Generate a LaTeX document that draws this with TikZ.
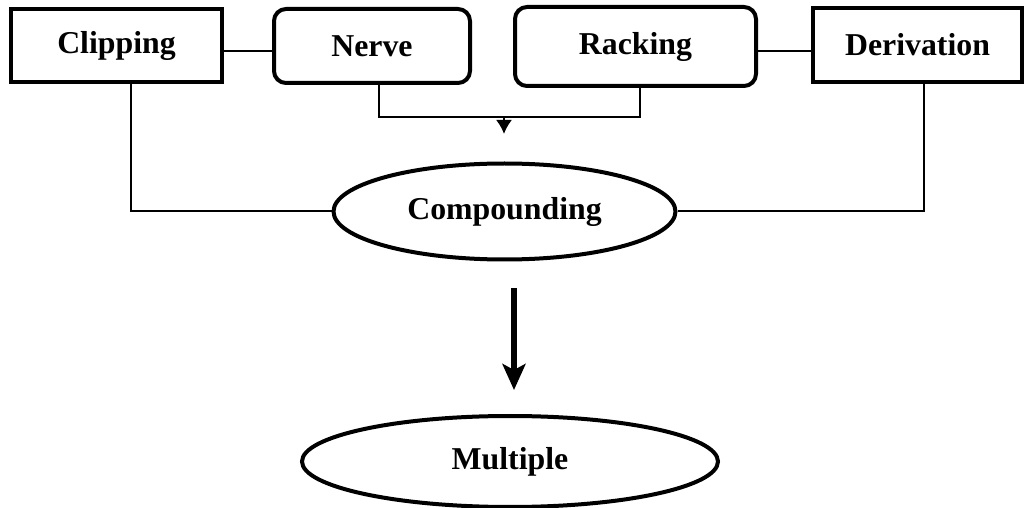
\documentclass[tikz,border=0pt]{standalone}
\usepackage{fontspec}
\setmainfont{Liberation Serif}
\usetikzlibrary{shapes.geometric,arrows.meta}
\begin{document}
\begin{tikzpicture}[x=0.5pt,y=-0.5pt,
  every node/.style={font=\fontsize{15.9}{19}\selectfont\bfseries, inner sep=0pt},
  sqbox/.style={draw, line width=2pt, rectangle},
  rdbox/.style={draw, line width=2pt, rectangle, rounded corners=6pt},
  ellbox/.style={draw, line width=2pt, ellipse},
  conn/.style={line width=1pt}]
\useasboundingbox (0,0) rectangle (1025,508);
\node[sqbox, minimum width=105.5pt, minimum height=36.5pt] (clip) at (116.5,46) {Clipping};
\node[rdbox, minimum width=98pt, minimum height=37pt] (nerve) at (372,46) {Nerve};
\node[rdbox, minimum width=120.5pt, minimum height=39.5pt] (rack) at (635.5,46.5) {Racking};
\node[sqbox, minimum width=104.5pt, minimum height=37pt] (deriv) at (917.5,45) {Derivation};
\node[ellbox, minimum width=171pt, minimum height=48pt] (comp) at (504.5,211.5) {Compounding};
\node[ellbox, minimum width=208pt, minimum height=45.5pt] (mult) at (510,461.5) {Multiple};
% connectors
\draw[conn] (clip.east |- 0,51) -- (nerve.west |- 0,51);
\draw[conn] (rack.east |- 0,51) -- (deriv.west |- 0,51);
\coordinate (j) at (504,117);
\coordinate (jt) at (504,134);
\draw[conn] ([xshift=3.5pt]nerve.south) |- (j) -| ([xshift=2.25pt]rack.south);
\draw[conn, -{Latex[length=7pt,width=8pt]}] (j) -- (jt);
\draw[conn] ([xshift=7.25pt]clip.south) |- (comp.west);
\draw[conn] ([xshift=3.25pt]deriv.south) |- (comp.east);
\draw[line width=3pt, -{Stealth[length=13pt,width=11.5pt,inset=3pt]}]
  ([xshift=4.75pt,yshift=-13.5pt]comp.south) -- ([xshift=2pt,yshift=12pt]mult.north);
\end{tikzpicture}
\end{document}
